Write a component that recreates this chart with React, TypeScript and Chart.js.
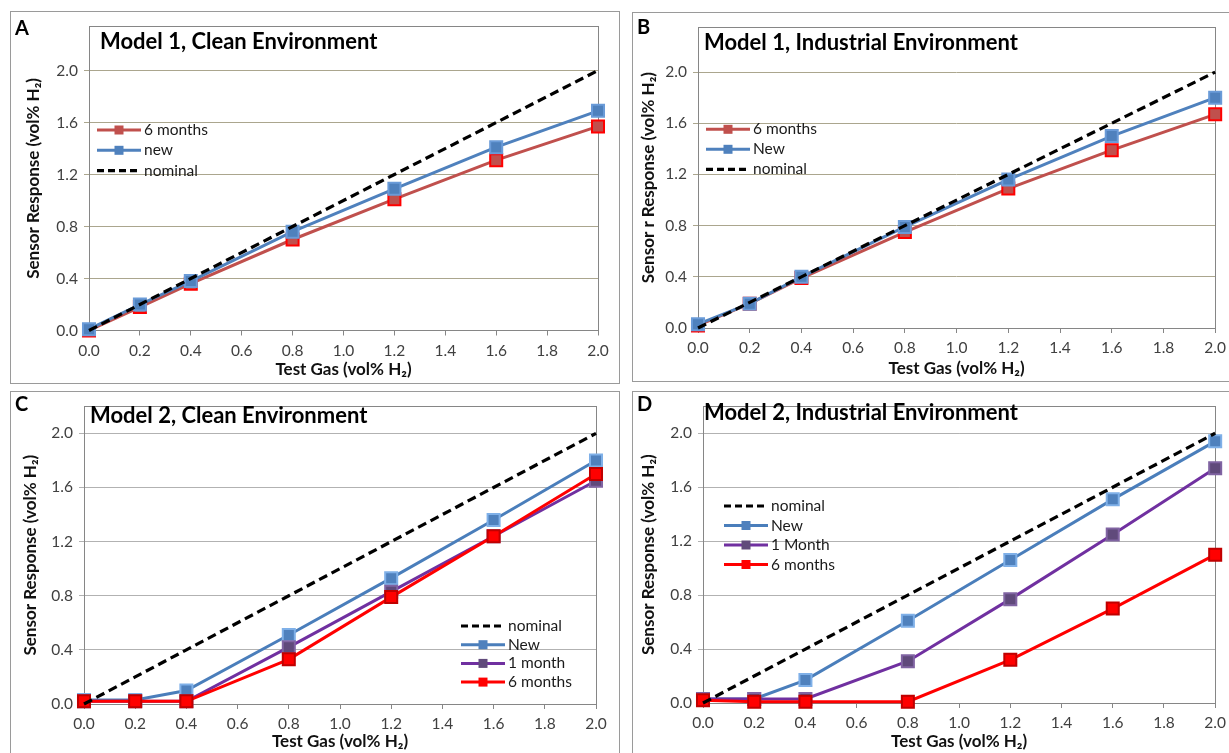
import React, { useEffect, useRef } from "react";
import { Chart, registerables } from "chart.js";

Chart.register(...registerables);

const FONT = "Lato, 'Open Sans', 'DejaVu Sans', sans-serif";

// ---- data ----
const xValues = [0, 0.2, 0.4, 0.8, 1.2, 1.6, 2.0];
const xTicks = [0, 0.2, 0.4, 0.6, 0.8, 1.0, 1.2, 1.4, 1.6, 1.8, 2.0];
const yTicks = [0, 0.4, 0.8, 1.2, 1.6, 2.0];
const nominal = [0, 0.2, 0.4, 0.8, 1.2, 1.6, 2.0];

const aSixMonths = [0.0, 0.18, 0.36, 0.7, 1.01, 1.31, 1.57];
const aNew = [0.01, 0.2, 0.38, 0.76, 1.09, 1.41, 1.69];

const bSixMonths = [0.02, 0.19, 0.39, 0.75, 1.09, 1.39, 1.67];
const bNew = [0.03, 0.19, 0.4, 0.79, 1.16, 1.5, 1.8];

const cNew = [0.03, 0.03, 0.1, 0.51, 0.93, 1.36, 1.8];
const cOneMonth = [0.02, 0.02, 0.02, 0.42, 0.83, 1.24, 1.65];
const cSixMonths = [0.02, 0.02, 0.02, 0.33, 0.79, 1.24, 1.7];

const dNew = [0.03, 0.03, 0.17, 0.61, 1.06, 1.51, 1.94];
const dOneMonth = [0.03, 0.03, 0.03, 0.31, 0.77, 1.25, 1.74];
const dSixMonths = [0.02, 0.01, 0.01, 0.01, 0.32, 0.7, 1.1];

const X_TITLE = "Test Gas (vol% H₂)";

// ---- styles ----
type Style = { line: string; width: number; dash?: number[]; fill?: string; border?: string };
const STYLES: Record<string, Style> = {
  nominal: { line: "#000000", width: 3.2, dash: [9, 5] },
  red1: { line: "#C0504D", width: 3, fill: "#C0504D", border: "#FF0000" },
  blue1: { line: "#4F81BD", width: 3, fill: "#4F81BD", border: "#6A9BD8" },
  blue2: { line: "#4A7EBB", width: 3, fill: "#4F81BD", border: "#7FB0E8" },
  purple: { line: "#7030A0", width: 3, fill: "#604A7B", border: "#8064A2" },
  red2: { line: "#FF0000", width: 3, fill: "#FF0000", border: "#C00000" },
};

type Series = { label: string; values: number[]; style: string; order: number };
type PanelCfg = {
  letter: string;
  title: string;
  yTitle: string;
  box: { left: number; top: number; width: number; height: number };
  padLeft: number;
  padTop: number;
  padRight: number;
  padBottom: number;
  yWidth: number;
  xHeight: number;
  yMax: number;
  gridColor: string;
  letterPos: [number, number];
  titlePos: [number, number];
  legend: { x: number; y: number; dy: number; len: number; items: Series[] };
  series: Series[];
};

const sNomA: Series = { label: "nominal", values: nominal, style: "nominal", order: 0 };

const panels: PanelCfg[] = (() => {
  const a6 = { label: "6 months", values: aSixMonths, style: "red1", order: 2 };
  const aN = { label: "new", values: aNew, style: "blue1", order: 1 };
  const b6 = { label: "6 months", values: bSixMonths, style: "red1", order: 2 };
  const bN = { label: "New", values: bNew, style: "blue1", order: 1 };
  const cN = { label: "New", values: cNew, style: "blue2", order: 3 };
  const c1 = { label: "1 month", values: cOneMonth, style: "purple", order: 2 };
  const c6 = { label: "6 months", values: cSixMonths, style: "red2", order: 1 };
  const dN = { label: "New", values: dNew, style: "blue2", order: 3 };
  const d1 = { label: "1 Month", values: dOneMonth, style: "purple", order: 2 };
  const d6 = { label: "6 months", values: dSixMonths, style: "red2", order: 1 };
  return [
    {
      letter: "A",
      title: "Model 1, Clean Environment",
      yTitle: "Sensor Response (vol% H₂)",
      box: { left: 10, top: 11, width: 610, height: 373 },
      padLeft: 13, padTop: 11, padRight: 22, padBottom: 3.8,
      yWidth: 66, xHeight: 49.7, yMax: 2.34,
      gridColor: "#ABA68E",
      letterPos: [5, 18],
      titlePos: [90, 31],
      legend: { x: 87, y: 119, dy: 20.3, len: 44, items: [a6, aN, sNomA] },
      series: [sNomA, aN, a6],
    },
    {
      letter: "B",
      title: "Model 1, Industrial Environment",
      yTitle: "Sensor r Response (vol% H₂)",
      box: { left: 632, top: 12, width: 600, height: 370 },
      padLeft: 6, padTop: 10, padRight: 15, padBottom: 2.8,
      yWidth: 60, xHeight: 51.2, yMax: 2.35,
      gridColor: "#ABA68E",
      letterPos: [5, 16],
      titlePos: [72, 31],
      legend: { x: 74, y: 117.3, dy: 20, len: 44, items: [b6, bN, sNomA] },
      series: [sNomA, bN, b6],
    },
    {
      letter: "C",
      title: "Model 2, Clean Environment",
      yTitle: "Sensor Response (vol% H₂)",
      box: { left: 10, top: 391, width: 610, height: 370 },
      padLeft: 10, padTop: 11, padRight: 24, padBottom: 9.1,
      yWidth: 64, xHeight: 47.9, yMax: 2.2,
      gridColor: "#B2B2B2",
      letterPos: [5, 14],
      titlePos: [80, 25],
      legend: { x: 451, y: 235, dy: 18.7, len: 44, items: [sNomA, cN, c1, c6] },
      series: [sNomA, cN, c1, c6],
    },
    {
      letter: "D",
      title: "Model 2, Industrial Environment",
      yTitle: "Sensor Response (vol% H₂)",
      box: { left: 632, top: 391, width: 600, height: 370 },
      padLeft: 6, padTop: 11, padRight: 15, padBottom: 9.1,
      yWidth: 65, xHeight: 48.9, yMax: 2.2,
      gridColor: "#B2B2B2",
      letterPos: [5, 14],
      titlePos: [72, 22],
      legend: { x: 92, y: 115, dy: 19.5, len: 44, items: [sNomA, dN, d1, d6] },
      series: [sNomA, dN, d1, d6],
    },
  ];
})();

function makeDecor(cfg: PanelCfg) {
  return {
    id: "decor" + cfg.letter,
    beforeDatasetsDraw(chart: any) {
      const { ctx, chartArea } = chart;
      ctx.save();
      ctx.strokeStyle = "#868686";
      ctx.lineWidth = 1;
      ctx.strokeRect(
        Math.round(chartArea.left) + 0.5,
        Math.round(chartArea.top) + 0.5,
        Math.round(chartArea.right - chartArea.left),
        Math.round(chartArea.bottom - chartArea.top)
      );
      ctx.restore();
    },
    afterDatasetsDraw(chart: any) {
      const { ctx } = chart;
      ctx.save();
      // panel letter
      ctx.fillStyle = "#000";
      ctx.textBaseline = "middle";
      ctx.textAlign = "left";
      ctx.font = `bold 20px ${FONT}`;
      ctx.fillText(cfg.letter, cfg.letterPos[0], cfg.letterPos[1]);
      // title
      ctx.font = `bold 22px ${FONT}`;
      ctx.fillText(cfg.title, cfg.titlePos[0], cfg.titlePos[1]);
      // legend
      const lg = cfg.legend;
      lg.items.forEach((it, i) => {
        const y = lg.y + i * lg.dy;
        const st = STYLES[it.style];
        ctx.strokeStyle = st.line;
        ctx.lineWidth = st.width;
        ctx.setLineDash(st.dash ? [7, 4] : []);
        ctx.beginPath();
        ctx.moveTo(lg.x, y);
        ctx.lineTo(lg.x + lg.len, y);
        ctx.stroke();
        ctx.setLineDash([]);
        if (st.fill) {
          const s = 9;
          const cx = lg.x + lg.len / 2;
          ctx.fillStyle = st.fill;
          ctx.fillRect(cx - s / 2, y - s / 2, s, s);
        }
        ctx.fillStyle = "#1A1A1A";
        ctx.font = `15.5px ${FONT}`;
        ctx.fillText(it.label, lg.x + lg.len + 3, y);
      });
      ctx.restore();
    },
  };
}

function Panel({ cfg }: { cfg: PanelCfg }) {
  const ref = useRef<HTMLCanvasElement>(null);
  useEffect(() => {
    if (!ref.current) return;
    const datasets = cfg.series.map((s) => {
      const st = STYLES[s.style];
      return {
        label: s.label,
        data: xValues.map((x, i) => ({ x, y: s.values[i] })),
        borderColor: st.line,
        borderWidth: st.width,
        borderDash: st.dash || [],
        backgroundColor: st.fill || st.line,
        pointStyle: "rect",
        pointRadius: st.fill ? 8.5 : 0,
        pointBackgroundColor: st.fill || st.line,
        pointBorderColor: st.border || st.line,
        pointBorderWidth: 2,
        tension: 0,
        fill: false,
        clip: false as any,
        order: s.order,
      };
    });
    const chart = new Chart(ref.current, {
      type: "line",
      data: { datasets },
      options: {
        animation: false,
        responsive: false,
        maintainAspectRatio: false,
        events: [],
        layout: {
          autoPadding: false,
          padding: { left: cfg.padLeft, top: cfg.padTop, right: cfg.padRight, bottom: cfg.padBottom },
        },
        plugins: { legend: { display: false }, tooltip: { enabled: false }, title: { display: false } },
        scales: {
          x: {
            type: "linear",
            min: 0,
            max: 2,
            afterBuildTicks: (s: any) => {
              s.ticks = xTicks.map((v) => ({ value: v }));
            },
            afterFit: (s: any) => {
              s.height = cfg.xHeight;
            },
            grid: { drawOnChartArea: false, drawTicks: true, tickLength: 5, color: "#868686" },
            border: { display: false },
            ticks: {
              autoSkip: false,
              maxRotation: 0,
              padding: 6,
              color: "#404040",
              font: { family: FONT, size: 15.5 },
              callback: (v: any) => Number(v).toFixed(1),
            },
            title: {
              display: true,
              text: X_TITLE,
              color: "#111",
              padding: 0,
              font: { family: FONT, size: 17, weight: "bold" },
            },
          },
          y: {
            type: "linear",
            min: 0,
            max: cfg.yMax,
            afterBuildTicks: (s: any) => {
              s.ticks = yTicks.map((v) => ({ value: v }));
            },
            afterFit: (s: any) => {
              s.width = cfg.yWidth;
            },
            grid: { color: cfg.gridColor, tickLength: 5, lineWidth: 1 },
            border: { display: false },
            ticks: {
              padding: 6,
              color: "#404040",
              font: { family: FONT, size: 15.5 },
              callback: (v: any) => Number(v).toFixed(1),
            },
            title: {
              display: true,
              text: cfg.yTitle,
              color: "#111",
              padding: 0,
              font: { family: FONT, size: 17, weight: "bold" },
            },
          },
        },
      } as any,
      plugins: [makeDecor(cfg)],
    });
    return () => chart.destroy();
  }, [cfg]);
  const b = cfg.box;
  return (
    <>
      <canvas
        ref={ref}
        width={b.width}
        height={b.height}
        style={{ position: "absolute", left: b.left, top: b.top, width: b.width, height: b.height }}
      />
      <div
        style={{
          position: "absolute",
          left: b.left,
          top: b.top,
          width: b.width,
          height: b.height,
          border: "1px solid #9A9A9A",
          boxSizing: "border-box",
          pointerEvents: "none",
        }}
      />
    </>
  );
}

export default function App() {
  return (
    <div
      style={{
        position: "fixed",
        left: 0,
        top: 0,
        width: 1229,
        height: 753,
        overflow: "hidden",
        background: "#fff",
      }}
    >
      {panels.map((p) => (
        <Panel key={p.letter} cfg={p} />
      ))}
    </div>
  );
}
